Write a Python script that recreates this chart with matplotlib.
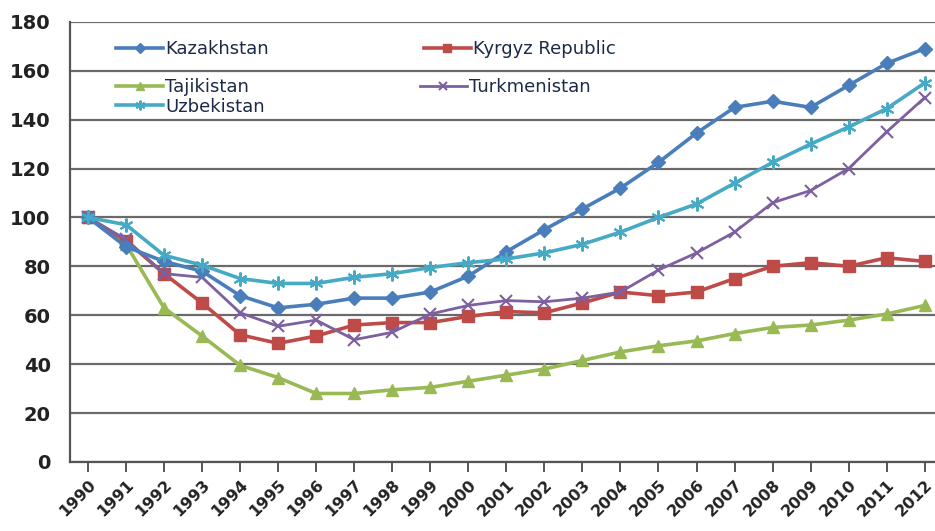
import matplotlib.pyplot as plt
import numpy as np

years = list(range(1990, 2013))

kazakhstan = [100, 88, 82, 78, 68, 63, 64.5, 67, 67, 69.5, 76, 86, 95, 103.5, 112,
              122.5, 134.5, 145, 147.5, 145, 154, 163, 169]
kyrgyz = [100, 90.5, 77, 65, 52, 48.5, 51.5, 56, 57, 57, 59.5, 61.5, 61, 65, 69.5,
          68, 69.5, 75, 80, 81.5, 80, 83.5, 82]
tajikistan = [100, 89, 63, 51.5, 39.5, 34.5, 28, 28, 29.5, 30.5, 33, 35.5, 38, 41.5, 45,
              47.5, 49.5, 52.5, 55, 56, 58, 60.5, 64]
turkmenistan = [100, 91, 77, 75.5, 61, 55.5, 58, 50, 53, 60.5, 64, 66, 65.5, 67, 69.5,
                78.5, 85.5, 94, 106, 111, 120, 135, 149]
uzbekistan = [100, 97, 84.5, 80.5, 75, 73, 73, 75.5, 77, 79.5, 81.5, 83, 85.5, 89, 94,
              100, 105.5, 114, 122.5, 130, 137, 144.5, 155]

fig = plt.figure(figsize=(9.35, 5.31), dpi=100)
ax = fig.add_axes([0.075, 0.13, 0.925, 0.829])

x = np.array(years)
h_kaz, = ax.plot(x, kazakhstan, color='#4a7ebb', lw=2.6, marker='D', ms=7, label='Kazakhstan', zorder=5)
h_taj, = ax.plot(x, tajikistan, color='#98b954', lw=2.6, marker='^', ms=9, label='Tajikistan', zorder=3)
h_uzb, = ax.plot(x, uzbekistan, color='#46aac5', lw=2.6, marker=(6, 2, 0), ms=10, mew=1.5,
                 label='Uzbekistan', zorder=6)
h_kyr, = ax.plot(x, kyrgyz, color='#be4b48', lw=2.6, marker='s', ms=9, label='Kyrgyz Republic', zorder=4)
h_tkm, = ax.plot(x, turkmenistan, color='#7d60a0', lw=2.0, marker='x', ms=9, mew=1.5,
                 label='Turkmenistan', zorder=4)

ax.set_ylim(0, 180)
ax.set_xlim(1989.53, 2012.27)
ax.set_yticks(range(0, 181, 20))
ax.set_xticks(years)
ax.set_xticklabels([str(y) for y in years], rotation=45, ha='right', rotation_mode='anchor')
ax.grid(axis='y', color='#6a6a6a', lw=1.6)
ax.set_axisbelow(True)

for s in ['top', 'right']:
    ax.spines[s].set_visible(False)
for s in ['left', 'bottom']:
    ax.spines[s].set_color('#555555')
    ax.spines[s].set_linewidth(1.6)

ax.tick_params(axis='y', length=0, pad=14, labelsize=14, labelcolor='#222222')
ax.tick_params(axis='x', length=7, width=1.4, color='#555555', direction='out',
               labelsize=11.5, labelcolor='#222222', pad=4)
for lbl in ax.get_yticklabels() + ax.get_xticklabels():
    lbl.set_fontweight('bold')

# legend split in two so the rows sit like the original
leg_kw = dict(ncol=2, loc='upper left', frameon=False, fontsize=13,
              handlelength=2.6, handletextpad=0.1, labelspacing=0.1,
              columnspacing=8.6, markerscale=0.7, borderaxespad=0)
leg1 = ax.legend([h_kaz, h_kyr], ['Kazakhstan', 'Kyrgyz Republic'],
                 bbox_to_anchor=(0.045, 0.975), **leg_kw)
ax.add_artist(leg1)
leg2 = ax.legend([h_taj, h_uzb, h_tkm], ['Tajikistan', 'Uzbekistan', 'Turkmenistan'],
                 bbox_to_anchor=(0.045, 0.889), **leg_kw)
for leg in (leg1, leg2):
    for t in leg.get_texts():
        t.set_color('#1c2a48')

fig.savefig('out.png', dpi=100)
